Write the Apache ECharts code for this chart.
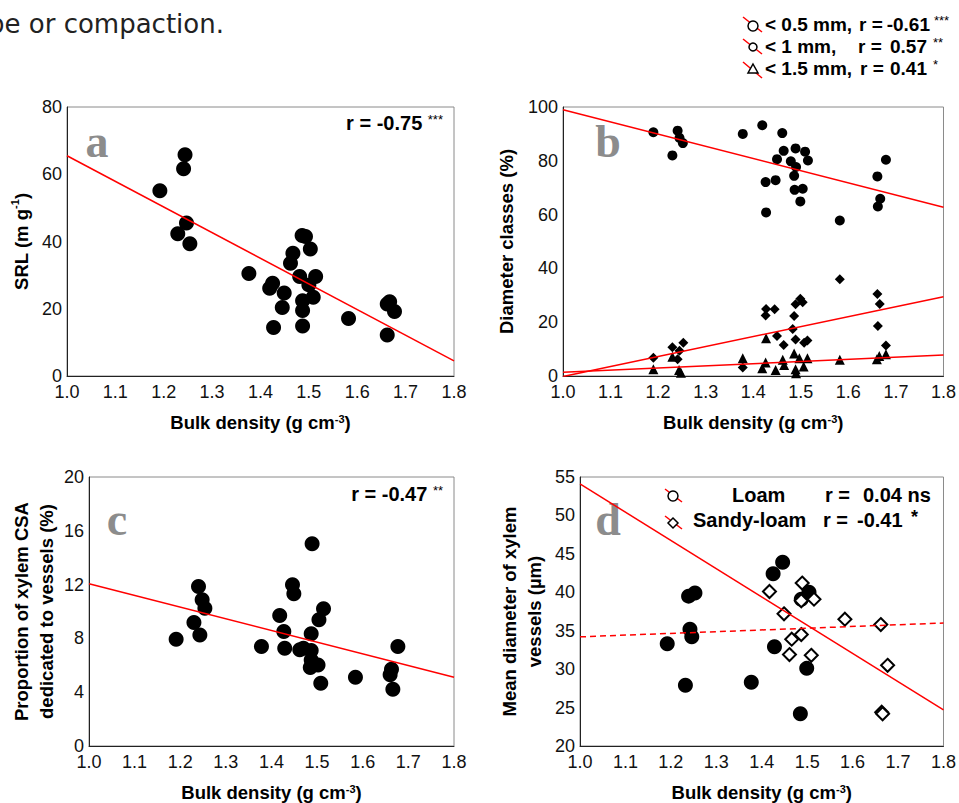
<!DOCTYPE html>
<html>
<head>
<meta charset="utf-8">
<script src="https://cdn.jsdelivr.net/npm/echarts@6/dist/echarts.min.js"></script>
<style>
html, body { margin: 0; padding: 0; background: #fff; }
#chart { width: 959px; height: 803px; }
</style>
</head>
<body>
<div id="chart"></div>
<script>
const FONT = "'Liberation Sans', Arial, sans-serif";

// a: specific root length vs bulk density
const aBulk = [1.192, 1.244, 1.241, 1.247, 1.229, 1.254, 1.376, 1.425, 1.419, 1.449, 1.445, 1.427, 1.467, 1.462, 1.486,
  1.493, 1.503, 1.481, 1.514, 1.500, 1.509, 1.487, 1.487, 1.487, 1.582, 1.667, 1.662, 1.677, 1.662];
const aSRL = [55.1, 65.8, 61.6, 45.5, 42.3, 39.3, 30.5, 27.6, 26.1, 24.7, 20.4, 14.4, 36.5, 33.5, 41.8,
  41.5, 37.8, 29.6, 29.6, 27.1, 23.4, 22.4, 19.5, 14.9, 17.1, 22.1, 21.4, 19.2, 12.2];
const aFit = [65.5, 4.5];   // fitted value at 1.0 and 1.8

// b: diameter classes
const b05Bulk = [1.190, 1.230, 1.241, 1.245, 1.252, 1.378, 1.419, 1.461, 1.426, 1.427, 1.447, 1.450, 1.464, 1.479,
  1.489, 1.490, 1.486, 1.487, 1.504, 1.499, 1.509, 1.515, 1.582, 1.661, 1.667, 1.662, 1.679];
const b05Pct = [90.6, 82.0, 91.2, 88.5, 86.6, 90.0, 93.2, 90.3, 72.1, 60.8, 72.8, 80.6, 83.7, 79.8,
  84.6, 77.7, 74.4, 69.2, 69.6, 64.9, 83.4, 80.1, 57.8, 74.2, 65.9, 63.0, 80.4];
const b1Bulk = [1.190, 1.230, 1.245, 1.241, 1.253, 1.378, 1.426, 1.427, 1.445, 1.450, 1.464, 1.486, 1.489, 1.483,
  1.489, 1.499, 1.504, 1.514, 1.507, 1.582, 1.661, 1.666, 1.662, 1.679];
const b1Pct = [6.8, 10.7, 9.4, 6.2, 12.4, 3.2, 22.5, 24.9, 24.8, 14.9, 11.5, 22.3, 26.7, 17.5,
  13.6, 28.7, 27.4, 13.2, 12.4, 36.0, 30.5, 26.8, 18.6, 11.3];
const b15Bulk = [1.190, 1.230, 1.244, 1.248, 1.378, 1.419, 1.426, 1.427, 1.447, 1.462, 1.465, 1.486, 1.489, 1.490,
  1.497, 1.506, 1.514, 1.582, 1.660, 1.665, 1.679];
const b15Pct = [2.5, 7.2, 2.2, 1.2, 6.6, 2.9, 5.0, 14.0, 2.2, 6.0, 4.1, 8.4, 2.5, 1.0,
  6.6, 3.5, 6.6, 6.0, 6.2, 7.4, 8.1];
const b05Fit = [99.0, 62.7];
const b1Fit = [-0.2, 29.5];
const b15Fit = [1.4, 7.8];

// c: proportion of xylem CSA dedicated to vessels
const cBulk = [1.191, 1.230, 1.240, 1.243, 1.248, 1.254, 1.378, 1.418, 1.427, 1.429, 1.446, 1.449, 1.462, 1.470,
  1.487, 1.489, 1.487, 1.487, 1.485, 1.502, 1.504, 1.514, 1.508, 1.584, 1.663, 1.660, 1.666, 1.677];
const cPct = [7.94, 9.18, 11.86, 8.26, 10.87, 10.25, 7.39, 9.70, 8.51, 7.27, 11.99, 11.32, 7.15, 7.27,
  7.10, 15.04, 8.34, 6.40, 5.83, 6.03, 9.38, 10.20, 4.66, 5.11, 5.71, 5.29, 4.22, 7.39];
const cFit = [12.06, 5.11];

// d: mean diameter of xylem vessels
const loamBulk = [1.192, 1.232, 1.239, 1.253, 1.242, 1.246, 1.377, 1.425, 1.446, 1.428, 1.485, 1.487, 1.504, 1.499];
const loamDiam = [33.3, 27.9, 39.5, 39.9, 35.2, 34.2, 28.3, 42.4, 43.9, 32.9, 24.2, 39.1, 40.0, 30.1];
const sandyBulk = [1.417, 1.449, 1.489, 1.487, 1.515, 1.466, 1.487, 1.461, 1.509, 1.583, 1.662, 1.677, 1.664, 1.666];
const sandyDiam = [40.1, 37.2, 41.2, 38.9, 39.1, 33.9, 34.5, 31.9, 31.8, 36.5, 35.8, 30.5, 24.4, 24.2];
const loamFit = [34.2, 36.0];
const sandyFit = [54.1, 24.7];

const bulkRange = [1.0, 1.8];

function zip(xs, ys) { return xs.map((x, i) => [x, ys[i]]); }
function ends(fit) { return [[bulkRange[0], fit[0]], [bulkRange[1], fit[1]]]; }

const supRich = { sup: { fontSize: 11, fontWeight: 'bold', fontFamily: FONT, color: '#000', verticalAlign: 'top' } };

function bulkAxis(gi) {
    return {
        type: 'value', gridIndex: gi, min: bulkRange[0], max: bulkRange[1], interval: 0.1,
        name: 'Bulk density (g cm{sup|-3})', nameLocation: 'middle', nameGap: 37,
        nameTextStyle: { color: '#000', fontFamily: FONT, fontSize: 18.5, fontWeight: 'bold', rich: supRich },
        axisLine: { onZero: false, lineStyle: { color: '#222', width: 1 } },
        axisTick: { show: false },
        splitLine: { show: false },
        axisLabel: { color: '#111', fontFamily: FONT, fontSize: 18, margin: 7, formatter: v => v.toFixed(1) }
    };
}

function valueAxis(gi, min, max, interval, name, gap) {
    return {
        type: 'value', gridIndex: gi, min: min, max: max, interval: interval,
        name: name, nameLocation: 'middle', nameGap: gap,
        nameTextStyle: { color: '#000', fontFamily: FONT, fontSize: 18.5, fontWeight: 'bold', lineHeight: 25, rich: supRich },
        axisLine: { onZero: false, lineStyle: { color: '#222', width: 1 } },
        axisTick: { show: false },
        splitLine: { show: false },
        axisLabel: { color: '#111', fontFamily: FONT, fontSize: 18, margin: 5 }
    };
}

function dots(gi, data, symbol, size, style) {
    return {
        type: 'scatter', xAxisIndex: gi, yAxisIndex: gi, data: data,
        symbol: symbol, symbolSize: size, itemStyle: style || { color: '#000', opacity: 1 }, silent: true
    };
}

function fit(gi, fitVals, dashed) {
    return {
        type: 'line', xAxisIndex: gi, yAxisIndex: gi, data: ends(fitVals), symbol: 'none', silent: true,
        lineStyle: { color: '#ff0000', width: 1.5, type: dashed ? [6, 4] : 'solid' }
    };
}

function txt(x, y, text, opts) {
    return {
        type: 'text', x: x, y: y, silent: true,
        style: Object.assign({
            text: text, fill: '#000', fontFamily: FONT, fontSize: 19, fontWeight: 'bold',
            align: 'left', verticalAlign: 'middle'
        }, opts || {})
    };
}

function letter(x, y, ch) {
    return txt(x, y, ch, { fill: '#8c8c8c', fontFamily: "'Liberation Serif', 'Times New Roman', serif", fontSize: 46, align: 'center' });
}

function redSlash(x1, y1, x2, y2) {
    return { type: 'line', silent: true, shape: { x1: x1, y1: y1, x2: x2, y2: y2 }, style: { stroke: '#ff0000', lineWidth: 1.5 } };
}

const openStyle = { fill: '#fff', stroke: '#000', lineWidth: 1.5 };
const starRich = { s: { fontSize: 13, fontWeight: 'normal', fontFamily: FONT, verticalAlign: 'top', fill: '#000' } };
const star = { fontSize: 13, fontWeight: 'normal' };

const graphics = [
    txt(-12, 24, 'pe or compaction.', { fontFamily: "'DejaVu Sans', sans-serif", fontSize: 26, fontWeight: 'normal', fill: '#222' }),

    // legend for panel b
    redSlash(743, 17, 762, 32),
    { type: 'circle', silent: true, shape: { cx: 753, cy: 26, r: 5 }, style: openStyle },
    redSlash(743, 39, 762, 54),
    { type: 'circle', silent: true, shape: { cx: 753, cy: 47, r: 4 }, style: openStyle },
    redSlash(743, 62, 762, 78),
    { type: 'polygon', silent: true, shape: { points: [[753, 64], [758, 73], [748, 73]] }, style: openStyle },
    txt(765, 24, '< 0.5 mm,'), txt(859, 24, 'r ='), txt(930, 24, '-0.61', { align: 'right' }),
    txt(934, 20, '***', star),
    txt(765, 46, '< 1 mm,'), txt(858, 46, 'r ='), txt(927, 46, '0.57', { align: 'right' }),
    txt(933, 42, '**', star),
    txt(765, 68, '< 1.5 mm,'), txt(860, 68, 'r ='), txt(927, 68, '0.41', { align: 'right' }),
    txt(933, 64, '*', star),

    // r values
    txt(443, 123, 'r = -0.75 {s|***}', { align: 'right', fontSize: 20, rich: starRich }),
    txt(443, 494, 'r = -0.47 {s|**}', { align: 'right', fontSize: 20, rich: starRich }),

    // legend inside panel d
    redSlash(665, 489, 682, 502),
    { type: 'circle', silent: true, shape: { cx: 673, cy: 496, r: 5 }, style: openStyle },
    redSlash(665, 516, 682, 529),
    { type: 'polygon', silent: true, shape: { points: [[673, 518], [678, 523], [673, 528], [668, 523]] }, style: openStyle },
    txt(732, 495, 'Loam', { fontSize: 20 }), txt(825, 495, 'r =', { fontSize: 20 }), txt(863, 495, '0.04 ns', { fontSize: 20 }),
    txt(693, 520, 'Sandy-loam', { fontSize: 20 }), txt(823, 520, 'r =', { fontSize: 20 }), txt(857, 520, '-0.41', { fontSize: 20 }),
    txt(911, 517, '*', { fontSize: 18 }),

    letter(97, 141, 'a'), letter(608, 141, 'b'), letter(117, 519, 'c'), letter(608, 519, 'd')
];

const chart = echarts.init(document.getElementById('chart'), null, { renderer: 'svg' });

const gridStyle = { show: true, borderColor: '#8a8a8a', borderWidth: 1, backgroundColor: 'transparent' };

const option = {
    animation: false,
    backgroundColor: '#fff',
    textStyle: { fontFamily: FONT },
    grid: [
        Object.assign({ left: 67, top: 107, width: 387, height: 269 }, gridStyle),
        Object.assign({ left: 563, top: 107, width: 381, height: 269 }, gridStyle),
        Object.assign({ left: 89, top: 477, width: 365, height: 269 }, gridStyle),
        Object.assign({ left: 580, top: 477, width: 364, height: 270 }, gridStyle)
    ],
    xAxis: [bulkAxis(0), bulkAxis(1), bulkAxis(2), bulkAxis(3)],
    yAxis: [
        valueAxis(0, 0, 80, 20, 'SRL (m g{sup|-1})', 33),
        valueAxis(1, 0, 100, 20, 'Diameter classes (%)', 44),
        valueAxis(2, 0, 20, 4, 'Proportion of xylem CSA\ndedicated to vessels (%)', 30),
        valueAxis(3, 20, 55, 5, 'Mean diameter of xylem\nvessels (\u00b5m)', 33)
    ],
    series: [
        dots(0, zip(aBulk, aSRL), 'circle', 15),
        fit(0, aFit),

        dots(1, zip(b05Bulk, b05Pct), 'circle', 10),
        dots(1, zip(b1Bulk, b1Pct), 'diamond', 10),
        dots(1, zip(b15Bulk, b15Pct), 'triangle', 10),
        fit(1, b05Fit), fit(1, b1Fit), fit(1, b15Fit),

        dots(2, zip(cBulk, cPct), 'circle', 15),
        fit(2, cFit),

        dots(3, zip(loamBulk, loamDiam), 'circle', 15),
        dots(3, zip(sandyBulk, sandyDiam), 'diamond', 13, { color: '#fff', borderColor: '#000', borderWidth: 2, opacity: 1 }),
        fit(3, sandyFit), fit(3, loamFit, true)
    ],
    graphic: graphics
};

chart.setOption(option);

window.onresize = () => {
    chart.resize();
};
</script>
</body>
</html>
